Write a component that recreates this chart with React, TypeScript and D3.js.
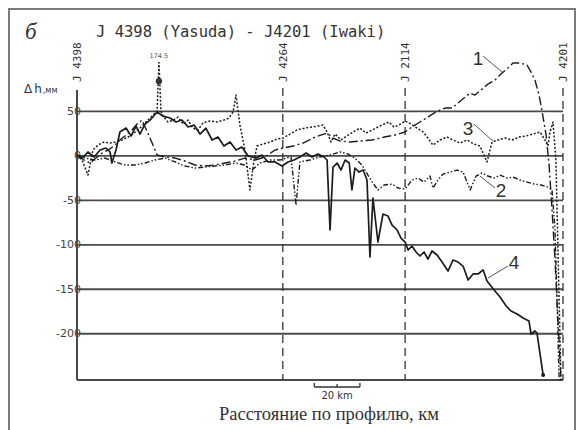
import React from "react";
import * as d3 from "d3";

const W = 578;
const H = 430;

// Benchmarks along the levelling line, distance in km
const stationNames = ["J 4398", "J 4264", "J 2114", "J 4201"];
const stationKm = [0, 90.2, 143.8, 213];

const yTicks = [50, 0, -50, -100, -150, -200];

// Curve 1 (dash-dot)
const s1Km = [0, 3.1, 5.7, 8.3, 11.0, 13.6, 16.2, 18.8, 21.5, 24.1, 26.3, 28.5, 32.0, 35.1, 38.6, 43.0, 47.3, 51.7, 56.1, 60.5, 64.9, 69.3, 73.6, 78.0, 82.4, 86.8, 90.3, 94.7, 99.1, 104.3, 109.6, 112.2, 115.3, 119.7, 124.0, 129.3, 134.6, 139.4, 143.8, 146.8, 150.3, 153.8, 156.5, 159.1, 161.3, 164.4, 167.0, 169.6, 172.3, 174.4, 177.1, 180.1, 183.2, 186.3, 188.9, 191.1, 194.2, 197.2, 199.0, 200.7, 202.5, 203.8, 205.6, 206.9, 208.2, 209.5, 210.8, 212.1];
const s1Dh = [-0.2, -4.7, -8.1, -2.5, 3.1, 6.5, 11.0, 17.8, 23.4, 29.0, 35.7, 40.2, 20.0, 0.9, -1.3, -2.5, -5.8, -10.3, -11.5, -10.3, -8.1, -5.8, -2.5, -4.7, -1.3, 6.5, 8.8, 11.0, 14.4, 21.1, 25.6, 20.0, 16.6, 15.5, 16.6, 17.8, 21.1, 23.4, 26.8, 32.4, 38.0, 43.6, 48.1, 51.5, 53.7, 53.7, 59.3, 65.0, 70.6, 68.3, 74.0, 80.7, 85.2, 93.1, 98.7, 104.3, 104.3, 102.1, 94.2, 85.2, 68.3, 50.4, 23.4, -10.3, -60.9, -117.1, -184.6, -252];

// Curve 2 (dash-dot-dot)
const s2Km = [0, 3.5, 7.9, 12.3, 16.7, 21.0, 25.4, 29.8, 34.2, 38.6, 43.0, 47.3, 51.7, 56.1, 60.5, 64.9, 69.3, 73.6, 76.7, 80.2, 84.6, 89.0, 91.6, 93.8, 96.0, 97.7, 102.1, 106.5, 110.9, 115.3, 118.8, 121.8, 124.9, 127.5, 129.7, 131.9, 134.6, 138.1, 140.7, 143.8, 146.8, 149.5, 152.1, 154.7, 156.0, 158.2, 160.4, 163.5, 166.5, 169.2, 172.3, 174.9, 177.5, 180.1, 182.8, 185.4, 188.5, 191.1, 194.2, 197.2, 200.3, 203.4, 206.4, 208.2, 209.5, 210.4, 211.3];
const s2Dh = [0.9, -2.5, -4.7, -2.5, -6.9, -10.3, -10.3, -8.1, -4.7, -2.5, -6.9, -11.5, -13.7, -12.6, -11.5, -10.3, -8.1, -10.3, -16.0, -8.1, -4.7, -4.7, -2.5, -1.3, -55.3, -6.9, -4.7, -1.3, 0.9, 4.3, 2.0, -2.5, -10.3, -21.6, -30.6, -38.4, -32.8, -31.7, -36.2, -37.3, -27.2, -25.0, -29.5, -22.7, -36.2, -27.2, -20.5, -18.2, -16.0, -18.2, -38.4, -22.7, -19.3, -22.7, -25.0, -21.6, -25.0, -23.9, -27.2, -29.5, -31.7, -32.8, -35.1, -38.4, -83.4, -162.1, -252];

// Curve 3 (dotted); the spike near 36 km reaches 174.5 mm
const s3Km = [0, 2.2, 4.8, 7.0, 9.2, 11.8, 14.5, 17.1, 19.7, 22.4, 25.0, 27.6, 30.2, 32.9, 35.1, 35.9, 36.8, 37.7, 39.9, 42.1, 44.3, 46.5, 48.7, 50.8, 53.0, 55.2, 58.3, 61.4, 64.4, 66.6, 68.4, 69.7, 71.4, 73.6, 75.8, 77.6, 78.9, 81.5, 84.6, 87.7, 90.3, 93.4, 96.4, 99.9, 103.0, 105.6, 107.8, 109.6, 111.3, 113.1, 115.7, 118.3, 121.0, 124.0, 126.7, 129.3, 131.9, 134.6, 136.7, 138.9, 141.1, 143.8, 146.4, 149.0, 151.7, 153.8, 156.0, 159.1, 162.2, 164.8, 167.9, 170.9, 174.0, 176.6, 179.7, 181.9, 184.5, 187.6, 190.7, 193.7, 196.8, 199.9, 202.9, 205.1, 206.4, 207.3, 208.6, 209.9, 210.8, 212.1];
const s3Dh = [0.9, -4.7, -21.6, 6.5, 12.1, 15.5, 14.4, 15.5, 17.8, 21.1, 25.6, 31.2, 38.0, 44.7, 50.4, 174.5, 50.4, 44.7, 38.0, 40.2, 43.6, 35.7, 40.2, 31.2, 29.0, 36.9, 39.1, 38.0, 40.2, 42.5, 49.2, 68.3, 34.6, 6.5, -38.4, -4.7, 11.0, 13.3, 15.5, 18.9, 20.0, 24.5, 29.0, 31.2, 32.4, 33.5, 34.6, 26.8, 15.5, 24.5, 17.8, 22.3, 26.8, 31.2, 25.6, 29.0, 32.4, 35.7, 38.0, 32.4, 34.6, 39.1, 35.7, 31.2, 26.8, 20.0, 12.1, 17.8, 21.1, 17.8, 14.4, 17.8, 13.3, 11.0, -6.9, 15.5, 17.8, 20.0, 17.8, 21.1, 22.3, 24.5, 26.8, 17.8, 11.0, 26.8, 38.0, -4.7, -106.1, -252];

// Curve 4 (solid)
const s4Km = [0, 2.2, 4.8, 7.5, 10.1, 12.7, 14.5, 15.3, 17.1, 18.8, 21.5, 23.7, 25.9, 27.6, 29.8, 32.0, 35.1, 37.7, 40.8, 43.4, 46.0, 48.7, 51.3, 53.9, 56.5, 59.2, 61.8, 64.4, 67.1, 69.7, 72.3, 75.0, 78.5, 81.1, 83.7, 86.8, 89.8, 92.5, 95.1, 97.7, 100.4, 103.0, 105.6, 108.3, 109.6, 110.9, 112.2, 114.0, 115.7, 117.5, 119.3, 120.5, 121.8, 123.6, 125.4, 127.1, 128.4, 129.7, 131.9, 134.1, 136.3, 138.1, 140.3, 142.0, 143.8, 145.1, 146.8, 148.6, 150.3, 152.1, 153.8, 155.6, 157.8, 160.0, 162.6, 164.8, 167.0, 169.2, 171.4, 173.6, 175.8, 178.0, 179.7, 182.8, 185.4, 188.1, 190.2, 192.9, 195.5, 198.1, 199.0, 200.7, 201.6, 204.3];
const s4Dh = [0.9, -2.5, 4.3, -1.3, 6.5, 8.8, 4.3, -8.1, 6.5, 26.8, 31.2, 22.3, 33.5, 24.5, 35.7, 40.2, 49.2, 44.7, 42.5, 38.0, 40.2, 32.4, 34.6, 24.5, 31.2, 17.8, 21.1, 11.0, 15.5, 6.5, 9.9, -0.2, -2.5, 0.9, -6.9, -6.9, -11.5, -6.9, -4.7, -1.3, 3.1, -1.3, 2.0, -1.3, -4.7, -83.4, -12.6, -8.1, -16.0, -4.7, -8.1, -38.4, -13.7, -18.2, -16.0, -27.2, -113.8, -47.4, -96.9, -65.4, -67.7, -77.8, -83.4, -92.4, -96.9, -105.9, -101.4, -108.1, -112.6, -108.1, -116.0, -107.0, -111.5, -119.4, -129.5, -117.1, -119.4, -123.9, -139.6, -132.8, -132.8, -128.3, -140.7, -150.8, -158.7, -168.8, -174.4, -177.8, -182.3, -185.7, -200.3, -196.9, -199.2, -246.4];

// Curve number labels: text position and leader line ends (km, mm)
const labelText = ["1", "2", "3", "4"];
const labelKm = [175.8, 185.8, 171.4, 191.5];
const labelDh = [109.9, -38.7, 31.2, -119.4];
const leaderFromKm = [178.0, 176.6, 174.0, 188.9];
const leaderFromDh = [112.0, -22.7, 35.7, -123.9];
const leaderToKm = [186.3, 183.2, 182.3, 180.1];
const leaderToDh = [94.2, -36.2, 16.5, -137.4];

// values above this are drawn cut off at it, with the value written above
const dhCap = 105;
const breakMarkDh = 84;

const x = d3.scaleLinear().domain([0, 213]).range([77, 563]);
const y = d3.scaleLinear().domain([-252, 74]).range([380, 90]);

const INK = "#1c1c1c";
const GRID = "#4a4a4a";

type Series = { km: number[]; dh: number[]; dash: string; width: number };

const series: Series[] = [
  { km: s1Km, dh: s1Dh, dash: "9,3,2,3", width: 1.4 },
  { km: s2Km, dh: s2Dh, dash: "5,2,1.5,2,1.5,2", width: 1.4 },
  { km: s3Km, dh: s3Dh, dash: "2,1.8", width: 1.5 },
  { km: s4Km, dh: s4Dh, dash: "", width: 1.7 },
];

const line = d3
  .line<[number, number]>()
  .x((d) => x(d[0]))
  .y((d) => y(Math.min(d[1], dhCap)));

export default function App() {
  const spikeIdx = s3Dh.indexOf(d3.max(s3Dh) as number);
  const spikeKm = s3Km[spikeIdx];
  const spikeVal = s3Dh[spikeIdx];
  const lastKm = s4Km[s4Km.length - 1];
  const lastDh = s4Dh[s4Dh.length - 1];
  const [x0, x1] = x.range();
  const [yBottom, yTop] = y.range();

  return (
    <svg width={W} height={H} style={{ display: "block", position: "absolute", left: 0, top: 0 }}>
      <rect x={0} y={0} width={W} height={H} fill="#fff" />
      {/* frame */}
      <rect x={9} y={9} width={566} height={440} fill="none" stroke="#7a7a7a" strokeWidth={2} />

      {/* caption and title */}
      <text x={25} y={39} fontFamily="Liberation Serif" fontStyle="italic" fontSize={23} fill="#333">
        б
      </text>
      <text x={96} y={37} fontFamily="DejaVu Sans Mono" fontSize={15.5} fill="#333">
        J 4398 (Yasuda) - J4201 (Iwaki)
      </text>

      {/* y axis title */}
      <text x={24} y={93} fontFamily="DejaVu Sans" fill="#333">
        <tspan fontSize={12}>Δ</tspan>
        <tspan fontSize={12} dx={2}>h</tspan>
        <tspan fontSize={8} dx={1}>,мм</tspan>
      </text>

      {/* horizontal grid lines */}
      {yTicks.map((t) => (
        <line key={t} x1={x0} x2={x1} y1={y(t)} y2={y(t)} stroke={GRID} strokeWidth={1.8} />
      ))}
      {yTicks.map((t) => (
        <text
          key={"l" + t}
          x={81}
          y={y(t)}
          textAnchor="end"
          dominantBaseline="central"
          fontFamily="DejaVu Sans"
          fontSize={11}
          fill="#444"
        >
          {t}
        </text>
      ))}

      {/* axes */}
      <line x1={x0} x2={x0} y1={yTop} y2={yBottom} stroke={GRID} strokeWidth={2} />
      <line x1={x0} x2={x1} y1={yBottom} y2={yBottom} stroke={GRID} strokeWidth={2.2} />

      {/* benchmark lines */}
      {stationKm.map((k, i) => (
        <g key={stationNames[i]}>
          {i > 0 && (
            <line
              x1={x(k)}
              x2={x(k)}
              y1={yTop - 2}
              y2={yBottom}
              stroke="#333"
              strokeWidth={1.3}
              strokeDasharray="8,5"
            />
          )}
          <text
            transform={`translate(${x(k) + 4},82) rotate(-90)`}
            fontFamily="DejaVu Sans Mono"
            fontSize={11}
            fill="#333"
          >
            {stationNames[i]}
          </text>
        </g>
      ))}

      {/* curves */}
      {series.map((s, i) => (
        <path
          key={i}
          d={line(s.km.map((k, j) => [k, s.dh[j]] as [number, number])) || ""}
          fill="none"
          stroke={INK}
          strokeWidth={s.width}
          strokeDasharray={s.dash || undefined}
          strokeLinejoin="round"
        />
      ))}

      {/* cut-off spike value */}
      <circle cx={x(spikeKm)} cy={y(breakMarkDh)} r={3.2} fill="#333" />
      <text
        x={x(spikeKm)}
        y={y(dhCap) - 4}
        textAnchor="middle"
        fontFamily="DejaVu Sans"
        fontSize={6.5}
        fill="#555"
      >
        {spikeVal}
      </text>

      {/* end of curve 4 */}
      <circle cx={x(lastKm)} cy={y(lastDh)} r={2} fill={INK} />

      {/* curve numbers */}
      {labelText.map((t, i) => (
        <g key={"n" + t}>
          <line
            x1={x(leaderFromKm[i])}
            y1={y(leaderFromDh[i])}
            x2={x(leaderToKm[i])}
            y2={y(leaderToDh[i])}
            stroke="#555"
            strokeWidth={1}
          />
          <text
            x={x(labelKm[i])}
            y={y(labelDh[i])}
            textAnchor="middle"
            dominantBaseline="central"
            fontFamily="Liberation Sans"
            fontSize={19}
            fill="#333"
          >
            {t}
          </text>
        </g>
      ))}

      {/* 20 km scale bar */}
      <g stroke="#333" strokeWidth={1.3} fill="none">
        <line x1={x(104.0)} x2={x(124.0)} y1={387} y2={387} />
        <line x1={x(104.0)} x2={x(104.0)} y1={383} y2={387} />
        <line x1={x(114.0)} x2={x(114.0)} y1={384} y2={387} />
        <line x1={x(124.0)} x2={x(124.0)} y1={383} y2={387} />
      </g>
      <text x={x(114)} y={399} textAnchor="middle" fontFamily="DejaVu Sans" fontSize={10} fill="#333">
        20 km
      </text>

      {/* x axis title */}
      <text x={329} y={420} textAnchor="middle" fontFamily="Liberation Serif" fontSize={18.5} fill="#333">
        Расстояние по профилю, км
      </text>
    </svg>
  );
}
